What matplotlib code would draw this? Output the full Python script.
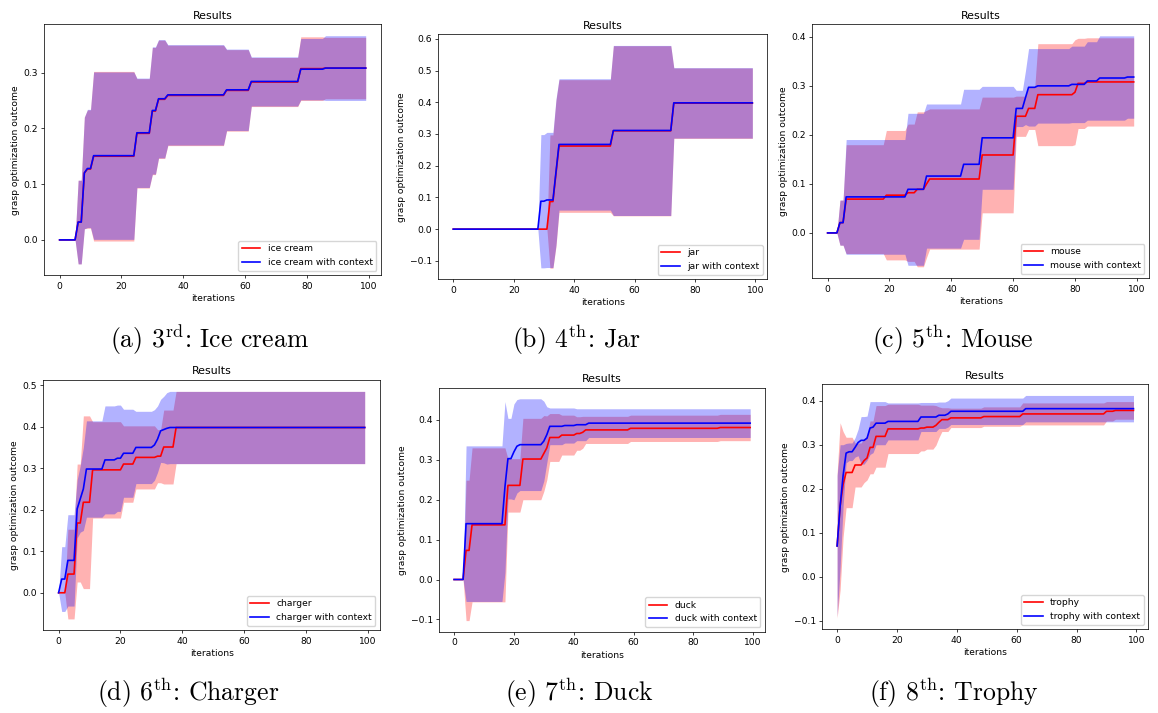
import numpy as np
import matplotlib
matplotlib.use("Agg")
import matplotlib.pyplot as plt
from matplotlib.ticker import MultipleLocator

W, H, DPI = 1158, 713, 100
K = 0.66  # the panels are shrunk copies of default-sized plots
plt.rcParams.update({
    "font.size": 10 * K,
    "axes.titlesize": 12 * K,
    "axes.titlepad": 6 * K,
    "axes.labelpad": 4 * K,
    "axes.linewidth": 0.8 * K,
    "lines.linewidth": 1.8 * K,
    "xtick.major.size": 3.5 * K,
    "ytick.major.size": 3.5 * K,
    "xtick.major.width": 0.8 * K,
    "ytick.major.width": 0.8 * K,
    "xtick.major.pad": 3.5 * K,
    "ytick.major.pad": 3.5 * K,
    "legend.frameon": True,
    "mathtext.fontset": "cm",
})

ITERATIONS = 100

# Each series is a list of (first iteration, mean outcome, std) runs;
# a value holds until the next listed iteration.
ice_cream = [(0, 0.0, 0.0), (6, 0.032, 0.075), (8, 0.12, 0.10), (9, 0.127, 0.106),
             (11, 0.150, 0.152), (25, 0.191, 0.098), (30, 0.231, 0.114), (32, 0.252, 0.106),
             (35, 0.259, 0.090), (54, 0.268, 0.073), (62, 0.283, 0.044), (78, 0.307, 0.057),
             (86, 0.308, 0.055)]
ice_cream_ctx = [(0, 0.0, 0.0), (6, 0.032, 0.075), (8, 0.12, 0.10), (9, 0.128, 0.106),
                 (11, 0.151, 0.15), (25, 0.192, 0.098), (30, 0.232, 0.114), (32, 0.253, 0.106),
                 (35, 0.260, 0.090), (54, 0.269, 0.073), (62, 0.284, 0.044), (78, 0.306, 0.055),
                 (86, 0.308, 0.058)]

jar = [(0, 0.0, 0.0), (32, 0.087, 0.21), (34, 0.175, 0.23), (35, 0.262, 0.209),
       (53, 0.310, 0.268), (73, 0.397, 0.111)]
jar_ctx = [(0, 0.0, 0.0), (29, 0.088, 0.21), (31, 0.092, 0.213), (34, 0.18, 0.23),
           (35, 0.267, 0.207), (53, 0.311, 0.268), (73, 0.398, 0.111)]

mouse = [(0, 0.0, 0.0), (4, 0.021, 0.046), (6, 0.069, 0.111), (19, 0.077, 0.132),
         (26, 0.082, 0.14), (29, 0.089, 0.158), (32, 0.10, 0.15), (33, 0.110, 0.143),
         (50, 0.159, 0.118), (61, 0.238, 0.041), (65, 0.254, 0.043), (68, 0.282, 0.104),
         (80, 0.287, 0.107), (81, 0.305, 0.092), (84, 0.308, 0.09)]
mouse_ctx = [(0, 0.0, 0.0), (4, 0.021, 0.046), (6, 0.0735, 0.117), (26, 0.089, 0.155),
             (32, 0.116, 0.147), (44, 0.140, 0.153), (50, 0.194, 0.105), (61, 0.254, 0.037),
             (64, 0.276, 0.055), (65, 0.297, 0.079), (68, 0.300, 0.076), (79, 0.303, 0.078),
             (84, 0.310, 0.08), (88, 0.316, 0.086), (97, 0.318, 0.084)]

charger = [(0, 0.0, 0.0), (3, 0.045, 0.108), (6, 0.168, 0.142), (8, 0.218, 0.208),
           (11, 0.296, 0.116), (21, 0.31, 0.092), (25, 0.326, 0.076), (32, 0.329, 0.064),
           (34, 0.351, 0.089), (38, 0.398, 0.087)]
charger_ctx = [(0, 0.0, 0.0), (1, 0.033, 0.078), (3, 0.078, 0.11), (6, 0.202, 0.07),
               (7, 0.226, 0.08), (8, 0.25, 0.1), (9, 0.298, 0.116), (15, 0.32, 0.13),
               (19, 0.324, 0.128), (21, 0.336, 0.106), (25, 0.35, 0.087), (31, 0.356, 0.085),
               (32, 0.37, 0.08), (33, 0.39, 0.076), (34, 0.393, 0.08), (35, 0.396, 0.086),
               (36, 0.398, 0.087)]

duck = [(0, 0.0, 0.0), (4, 0.073, 0.176), (6, 0.137, 0.193), (18, 0.236, 0.067),
        (23, 0.302, 0.102), (30, 0.316, 0.095), (31, 0.33, 0.08), (32, 0.356, 0.06),
        (36, 0.362, 0.05), (41, 0.366, 0.042), (43, 0.369, 0.04), (44, 0.375, 0.034),
        (59, 0.379, 0.033), (89, 0.381, 0.033)]
duck_ctx = [(0, 0.0, 0.0), (4, 0.14, 0.195), (17, 0.232, 0.214), (18, 0.303, 0.101),
            (20, 0.32, 0.12), (21, 0.334, 0.117), (22, 0.338, 0.115), (30, 0.347, 0.1),
            (31, 0.363, 0.07), (32, 0.384, 0.046), (37, 0.386, 0.044), (41, 0.388, 0.04),
            (45, 0.392, 0.036)]

trophy = [(0, 0.07, 0.164), (1, 0.16, 0.19), (2, 0.21, 0.12), (3, 0.237, 0.08),
          (6, 0.254, 0.05), (9, 0.264, 0.05), (10, 0.27, 0.05), (11, 0.294, 0.06),
          (13, 0.319, 0.07), (17, 0.336, 0.056), (28, 0.338, 0.052), (30, 0.34, 0.05),
          (33, 0.344, 0.045), (34, 0.351, 0.035), (35, 0.357, 0.027), (38, 0.361, 0.022),
          (49, 0.364, 0.022), (62, 0.37, 0.025), (90, 0.376, 0.022), (93, 0.378, 0.02)]
trophy_ctx = [(0, 0.07, 0.16), (1, 0.16, 0.14), (2, 0.23, 0.07), (3, 0.281, 0.022),
              (4, 0.284, 0.02), (6, 0.294, 0.022), (7, 0.305, 0.03), (8, 0.31, 0.054),
              (10, 0.315, 0.05), (11, 0.338, 0.06), (12, 0.34, 0.058), (13, 0.349, 0.049),
              (17, 0.353, 0.042), (28, 0.363, 0.033), (34, 0.367, 0.03), (37, 0.37, 0.03),
              (38, 0.376, 0.03), (63, 0.382, 0.03)]

OBJECTS = ["ice cream", "jar", "mouse", "charger", "duck", "trophy"]
SERIES = [(ice_cream, ice_cream_ctx), (jar, jar_ctx), (mouse, mouse_ctx),
          (charger, charger_ctx), (duck, duck_ctx), (trophy, trophy_ctx)]
CAPTIONS = [r"(a) 3$^{\mathrm{rd}}$: Ice cream", r"(b) 4$^{\mathrm{th}}$: Jar",
            r"(c) 5$^{\mathrm{th}}$: Mouse", r"(d) 6$^{\mathrm{th}}$: Charger",
            r"(e) 7$^{\mathrm{th}}$: Duck", r"(f) 8$^{\mathrm{th}}$: Trophy"]

# axes boxes in pixels: left, top, right, bottom
BOXES = [(44.3, 24.3, 381.0, 275.3), (438.3, 34.3, 767.3, 279.3), (812.3, 24.3, 1149.0, 278.3),
         (43.3, 380.0, 380.0, 630.3), (439.3, 387.7, 765.0, 631.7), (822.3, 384.3, 1148.3, 629.3)]
CAPTION_XY = [(209, 340), (576, 340), (953, 340), (188, 693), (579, 693), (954, 693)]


def expand(steps):
    starts = np.array([s[0] for s in steps] + [ITERATIONS])
    counts = np.diff(starts)
    mean = np.repeat([s[1] for s in steps], counts)
    std = np.repeat([s[2] for s in steps], counts)
    return mean, std


fig = plt.figure(figsize=(W / DPI, H / DPI), dpi=DPI)
x = np.arange(ITERATIONS)

for name, (plain, ctx), box, cap, cxy in zip(OBJECTS, SERIES, BOXES, CAPTIONS, CAPTION_XY):
    l, t, r, b = box
    ax = fig.add_axes([l / W, 1 - b / H, (r - l) / W, (b - t) / H])
    m, s = expand(plain)
    ax.plot(x, m, color="red", label=name)
    ax.fill_between(x, m - s, m + s, color="red", alpha=0.3, linewidth=0)
    m, s = expand(ctx)
    ax.plot(x, m, color="blue", label=f"{name} with context")
    ax.fill_between(x, m - s, m + s, color="blue", alpha=0.3, linewidth=0)
    ax.xaxis.set_major_locator(MultipleLocator(20))
    ax.yaxis.set_major_locator(MultipleLocator(0.1))
    ax.set_title("Results")
    ax.set_xlabel("iterations")
    ax.set_ylabel("grasp optimization outcome")
    ax.legend(loc="lower right")
    fig.text(cxy[0] / W, 1 - cxy[1] / H, cap, fontfamily="cmr10", fontsize=18.5,
             ha="center", va="center")

fig.savefig("out.png", dpi=DPI)
